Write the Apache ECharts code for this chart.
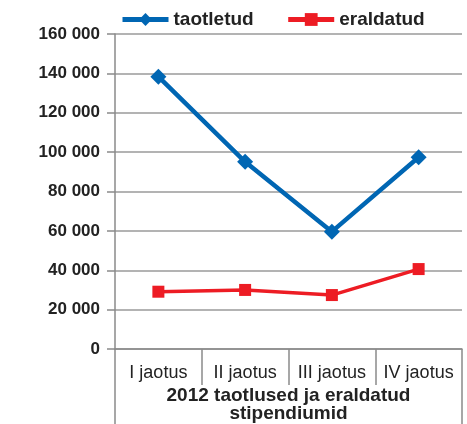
<!DOCTYPE html>
<html>
<head>
<meta charset="utf-8">
<script src="https://cdn.jsdelivr.net/npm/echarts@6/dist/echarts.min.js"></script>
<style>
  html, body { margin: 0; padding: 0; background: #fff; }
  #main { width: 467px; height: 424px; }
</style>
</head>
<body>
<div id="main"></div>
<script>
  // andmed
  var categories = ['I jaotus', 'II jaotus', 'III jaotus', 'IV jaotus'];
  var taotletud = [138300, 95100, 59600, 97400];
  var eraldatud = [29100, 30000, 27400, 40600];
  var axisTitle = ['2012 taotlused ja eraldatud\nstipendiumid'];

  var font = 'Liberation Sans, Arial, sans-serif';
  var myChart = echarts.init(document.getElementById('main'));

  var option = {
    animation: false,
    textStyle: { fontFamily: font },
    legend: {
      top: 5,
      left: 115,
      itemGap: 32,
      itemWidth: 46,
      itemHeight: 16,
      textStyle: { fontSize: 19, fontWeight: 'bold', color: '#222', fontFamily: font },
      data: [
        { name: 'taotletud', lineStyle: { width: 5, color: '#0066b3' } },
        { name: 'eraldatud', lineStyle: { width: 5, color: '#ed1c24' } }
      ]
    },
    grid: { left: 115, right: 5, top: 34, bottom: 75, outerBoundsMode: 'none', containLabel: false },
    xAxis: [
      {
        type: 'category',
        data: categories,
        boundaryGap: true,
        axisLine: { lineStyle: { color: '#8a8a8a', width: 1.5 } },
        axisTick: { show: true, interval: 0, length: 36, lineStyle: { color: '#8a8a8a', width: 1.5 } },
        axisLabel: { interval: 0, margin: 15, fontSize: 18, color: '#222', fontFamily: font }
      },
      {
        type: 'category',
        position: 'bottom',
        data: axisTitle,
        boundaryGap: true,
        axisLine: { show: false },
        axisTick: { show: true, length: 76, lineStyle: { color: '#8a8a8a', width: 1.5 } },
        axisLabel: { margin: 38, fontSize: 19, fontWeight: 'bold', color: '#222', lineHeight: 18, fontFamily: font }
      }
    ],
    yAxis: {
      type: 'value',
      min: 0,
      max: 160000,
      interval: 20000,
      axisLine: { show: true, lineStyle: { color: '#8a8a8a', width: 1.5 } },
      axisTick: { show: true, length: 8, lineStyle: { color: '#8a8a8a', width: 1.5 } },
      splitLine: { lineStyle: { color: '#9a9a9a', width: 1.5 } },
      axisLabel: {
        margin: 15,
        fontSize: 17,
        fontWeight: 'bold',
        color: '#222',
        fontFamily: font,
        formatter: function (v) {
          return String(v).replace(/\B(?=(\d{3})+(?!\d))/g, ' ');
        }
      }
    },
    series: [
      {
        name: 'taotletud',
        type: 'line',
        data: taotletud,
        symbol: 'diamond',
        symbolSize: 16,
        color: '#0066b3',
        lineStyle: { width: 4.5, color: '#0066b3' },
        itemStyle: { color: '#0066b3' }
      },
      {
        name: 'eraldatud',
        type: 'line',
        data: eraldatud,
        symbol: 'rect',
        symbolSize: 12,
        color: '#ed1c24',
        lineStyle: { width: 3.5, color: '#ed1c24' },
        itemStyle: { color: '#ed1c24' }
      }
    ]
  };

  myChart.setOption(option);
</script>
</body>
</html>
